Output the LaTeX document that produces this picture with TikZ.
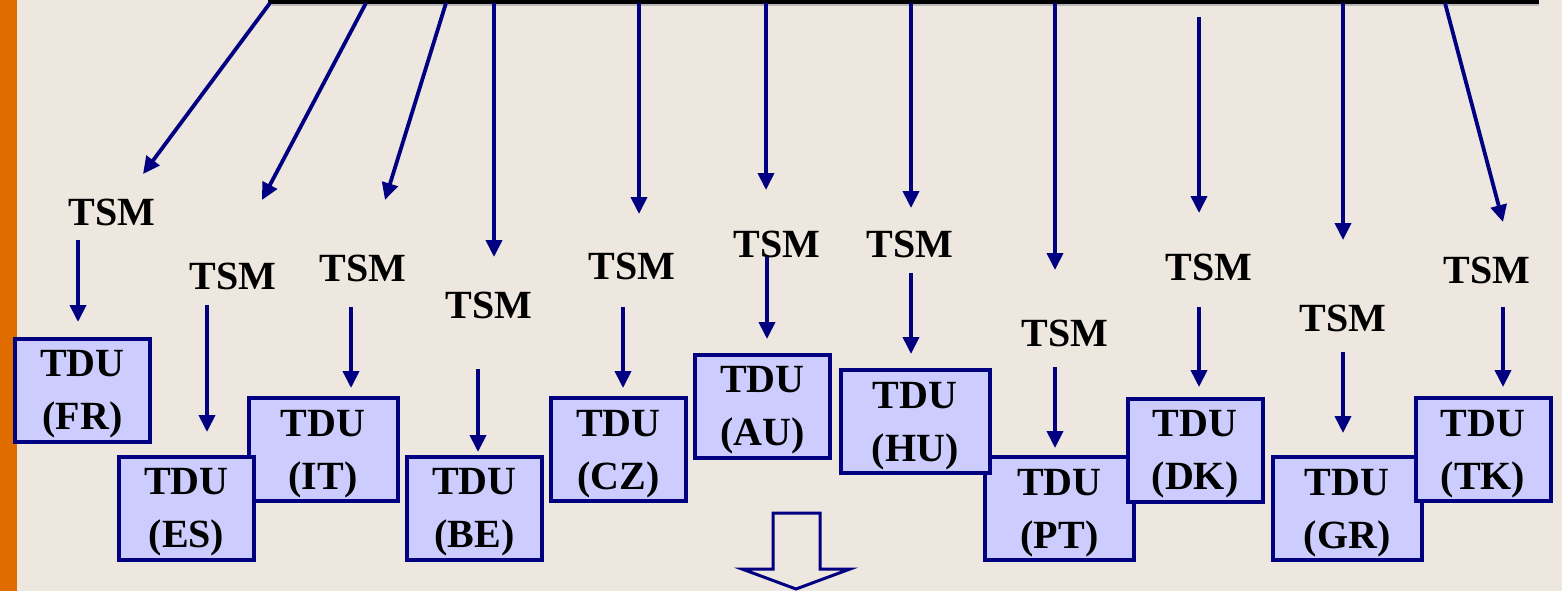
\documentclass[tikz,border=0pt]{standalone}
\usepackage{fontspec}
\setmainfont{Liberation Serif}
\usepackage{xcolor}
\usepackage{tikz}
\usetikzlibrary{arrows.meta,calc,positioning}
\definecolor{navy}{RGB}{0,0,128}
\definecolor{lilac}{RGB}{204,204,255}
\definecolor{sand}{RGB}{238,231,224}
\definecolor{rust}{RGB}{224,108,0}

\begin{document}
\begin{tikzpicture}[x=0.5pt,y=-0.5pt]
\tikzset{tsm/.style = {font=\fontsize{20}{24}\selectfont\bfseries, inner sep=0pt}}
\tikzset{tdu/.style = {draw=navy, fill=lilac, line width=2pt, align=center, inner sep=0pt,
  minimum width=67.5pt, minimum height=51.5pt, text depth=0pt, font=\fontsize{20}{26.5}\selectfont\bfseries}}
\tikzset{tduw/.style = {tdu, minimum width=74.5pt}}
\tikzset{link/.style = {draw=navy, line width=1.9pt, -{Triangle[length=8.5pt,width=8pt]}}}

\useasboundingbox (0,0) rectangle (1562,591);
\clip (0,0) rectangle (1562,591);
\fill[sand] (0,0) rectangle (1562,591);
\fill[rust] (0,0) rectangle (17,591);

% bar at the top
\fill[gray!55] (272,-30) rectangle (1539,5.5);
\draw[line width=2.2pt, fill=sand] (270,-30) rectangle (1537,2);
\coordinate (bar) at (0,3);

% heads of the feed arrows
\coordinate (a1) at (270,3);   \coordinate (b1) at (143,174);
\coordinate (a2) at (366,3);   \coordinate (b2) at (262,200);
\coordinate (a3) at (446,3);   \coordinate (b3) at (385,200);
\coordinate (b4) at (494,257);
\coordinate (b5) at (639,214);
\coordinate (b6) at (766,190);
\coordinate (b7) at (911,208);
\coordinate (b8) at (1055,270);
\coordinate (a9) at (1199,17); \coordinate (b9) at (1199,213);
\coordinate (b10) at (1343,240);
\coordinate (a11) at (1445,3); \coordinate (b11) at (1503,222);

\draw[link] (a1) -- (b1);
\draw[link] (a2) -- (b2);
\draw[link] (a3) -- (b3);
\draw[link] (b4 |- bar) -- (b4);
\draw[link] (b5 |- bar) -- (b5);
\draw[link] (b6 |- bar) -- (b6);
\draw[link] (b7 |- bar) -- (b7);
\draw[link] (b8 |- bar) -- (b8);
\draw[link] (a9) -- (b9);
\draw[link] (b10 |- bar) -- (b10);
\draw[link] (a11) -- (b11);

% TSM labels
\node[tsm] (m1) at (112,212) {TSM};
\node[tsm] (m2) at (233,276) {TSM};
\node[tsm] (m3) at (363,268) {TSM};
\node[tsm] (m4) at (489,305) {TSM};
\node[tsm] (m5) at (632,266) {TSM};
\node[tsm] (m6) at (777,244) {TSM};
\node[tsm] (m7) at (910,244) {TSM};
\node[tsm] (m8) at (1065,333) {TSM};
\node[tsm] (m9) at (1209,267) {TSM};
\node[tsm] (m10) at (1343,318) {TSM};
\node[tsm] (m11) at (1487,270) {TSM};

% drops from TSM to TDU
\coordinate (c1) at (78,240);    \coordinate (d1) at (78,322);
\coordinate (c2) at (207,305);   \coordinate (d2) at (207,432);
\coordinate (c3) at (351,307);   \coordinate (d3) at (351,388);
\coordinate (c4) at (478,369);   \coordinate (d4) at (478,452);
\coordinate (c5) at (623,307);   \coordinate (d5) at (623,388);
\coordinate (c6) at (767,257);   \coordinate (d6) at (767,339);
\coordinate (c7) at (911,273);   \coordinate (d7) at (911,354);
\coordinate (c8) at (1055,367);  \coordinate (d8) at (1055,448);
\coordinate (c9) at (1199,307);  \coordinate (d9) at (1199,387);
\coordinate (c10) at (1343,352); \coordinate (d10) at (1343,433);
\coordinate (c11) at (1503,307); \coordinate (d11) at (1503,387);
\foreach \i in {1,...,11} \draw[link] (c\i) -- (d\i);

% TDU boxes
\node[tdu] (u1) at (82.5,390) {TDU\\(FR)};
\node[tduw] (u3) at (323,449.5) {TDU\\(IT)};
\node[tdu] (u2) at (186.5,508) {TDU\\(ES)};
\node[tdu] (u4) at (474.5,508) {TDU\\(BE)};
\node[tdu] (u5) at (618.5,449.5) {TDU\\(CZ)};
\node[tdu] (u6) at (762.5,406) {TDU\\(AU)};
\node[tduw] (u8) at (1059.5,508.5) {TDU\\(PT)};
\node[tduw] (u7) at (915,421.5) {TDU\\(HU)};
\node[tdu] (u9) at (1195,450) {TDU\\(DK)};
\node[tduw] (u10) at (1347,508.5) {TDU\\(GR)};
\node[tdu] (u11) at (1483,449.5) {TDU\\(TK)};

% hollow arrow below
\draw[navy, line width=1.5pt, line join=miter]
  (773,513) -- (820,513) -- (820,569) -- (850,569) -- (796,589)
  -- (742,569) -- (773,569) -- cycle;
\end{tikzpicture}
\end{document}
